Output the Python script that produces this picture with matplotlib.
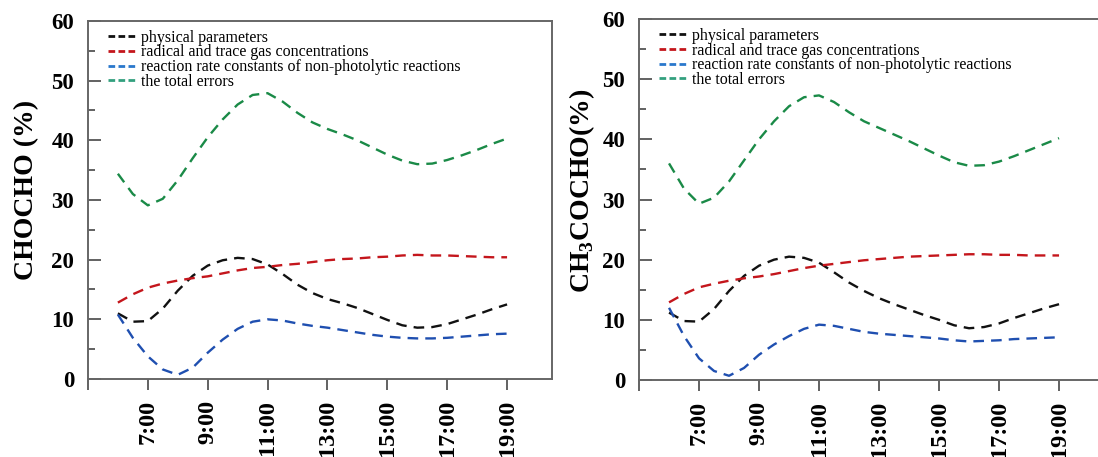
import numpy as np
import matplotlib
matplotlib.use("Agg")
import matplotlib.pyplot as plt
from matplotlib.lines import Line2D
from matplotlib.ticker import MultipleLocator

plt.rcParams['font.family'] = ['Liberation Serif', 'DejaVu Serif']
plt.rcParams['mathtext.fontset'] = 'custom'
plt.rcParams['mathtext.rm'] = 'Liberation Serif'
plt.rcParams['mathtext.bf'] = 'Liberation Serif:bold'

# hours of the day, every half hour from 6:00 to 19:00
hours = [6, 6.5, 7, 7.5, 8, 8.5, 9, 9.5, 10, 10.5, 11, 11.5, 12, 12.5,
         13, 13.5, 14, 14.5, 15, 15.5, 16, 16.5, 17, 17.5, 18, 18.5, 19]
tick_hours = [5, 7, 9, 11, 13, 15, 17, 19]
tick_labels = ["", "7:00", "9:00", "11:00", "13:00", "15:00", "17:00", "19:00"]

labels = ["physical parameters",
          "radical and trace gas concentrations",
          "reaction rate constants of non-photolytic reactions",
          "the total errors"]

# CHOCHO
gly_phys = [11.0, 9.6, 9.7, 11.8, 14.8, 17.3, 19.0, 19.9, 20.3, 20.1, 19.2, 17.6, 15.8, 14.4,
            13.4, 12.7, 11.9, 10.9, 9.9, 9.0, 8.6, 8.7, 9.2, 10.0, 10.8, 11.7, 12.5]
gly_rad = [12.8, 14.2, 15.3, 16.0, 16.5, 16.9, 17.2, 17.7, 18.2, 18.6, 18.8, 19.1, 19.3, 19.6,
           19.9, 20.1, 20.2, 20.4, 20.5, 20.7, 20.8, 20.7, 20.7, 20.6, 20.5, 20.4, 20.4]
gly_rate = [10.8, 6.9, 3.8, 1.6, 0.7, 1.9, 4.4, 6.6, 8.4, 9.6, 10.0, 9.8, 9.3, 8.9,
            8.6, 8.2, 7.8, 7.4, 7.1, 6.9, 6.8, 6.8, 6.9, 7.1, 7.3, 7.5, 7.6]
gly_total = [34.4, 31.0, 29.1, 30.2, 33.3, 37.0, 40.5, 43.5, 46.0, 47.6, 47.9, 46.5, 44.6, 43.0,
             41.9, 41.0, 40.0, 38.8, 37.6, 36.6, 36.0, 36.1, 36.7, 37.5, 38.4, 39.4, 40.3]

# CH3COCHO
mgly_phys = [11.2, 9.8, 9.7, 11.8, 14.8, 17.3, 19.0, 20.0, 20.5, 20.3, 19.5, 17.9, 16.2, 14.8,
             13.6, 12.6, 11.7, 10.8, 10.0, 9.1, 8.6, 8.8, 9.4, 10.3, 11.1, 11.9, 12.6]
mgly_rad = [12.9, 14.3, 15.4, 16.0, 16.5, 16.9, 17.2, 17.6, 18.1, 18.6, 19.0, 19.3, 19.6, 19.9,
            20.1, 20.3, 20.5, 20.6, 20.7, 20.8, 20.9, 20.9, 20.8, 20.8, 20.7, 20.7, 20.7]
mgly_rate = [12.0, 7.3, 3.6, 1.5, 0.7, 2.0, 4.2, 5.9, 7.3, 8.5, 9.2, 9.0, 8.5, 8.0,
             7.7, 7.5, 7.3, 7.1, 6.9, 6.6, 6.4, 6.5, 6.6, 6.8, 6.9, 7.0, 7.1]
mgly_total = [36.0, 31.8, 29.3, 30.3, 33.0, 36.5, 40.0, 43.0, 45.5, 47.0, 47.3, 46.2, 44.5, 43.0,
              41.9, 40.8, 39.7, 38.5, 37.3, 36.2, 35.6, 35.7, 36.3, 37.2, 38.2, 39.2, 40.2]

colors = ["#111111", "#c4161c", "#1f4fb0", "#1a8a47"]
legend_colors = ["#111111", "#c4161c", "#2a78cc", "#33a07e"]

fig = plt.figure(figsize=(10.98, 4.57), dpi=100)
ax1 = fig.add_axes([0.0801, 0.1707, 0.4226, 0.7834])
ax2 = fig.add_axes([0.5820, 0.1685, 0.4235, 0.7899])

panels = [(ax1, [gly_phys, gly_rad, gly_rate, gly_total], "CHOCHO (%)", (-0.105, 0.528)),
          (ax2, [mgly_phys, mgly_rad, mgly_rate, mgly_total], r"CH$_\mathbf{3}$COCHO(%)",
           (-0.09, 0.523))]

for ax, series, ylab, lab_xy in panels:
    for vals, c in zip(series, colors):
        ax.plot(hours, vals, color=c, lw=1.7, dashes=(4.5, 3.0))
    ax.set_xlim(5, 20.5)
    ax.set_ylim(0, 60)
    ax.set_xticks(tick_hours)
    ax.set_xticklabels(tick_labels, rotation=90, fontsize=17.5, fontweight='bold')
    ax.yaxis.set_major_locator(MultipleLocator(10))
    ax.yaxis.set_minor_locator(MultipleLocator(5))
    for t in ax.get_yticklabels():
        t.set_fontsize(16.5)
        t.set_fontweight('bold')
    ax.tick_params(axis='y', which='major', direction='in', length=9, width=1.3,
                   color='#555555', pad=10)
    ax.tick_params(axis='y', which='minor', direction='in', length=5, width=1.3,
                   color='#555555')
    ax.tick_params(axis='x', direction='out', length=8, width=1.3, color='#555555', pad=7)
    for s in ax.spines.values():
        s.set_color('#666666')
        s.set_linewidth(1.4)
    ax.set_ylabel(ylab, fontsize=20, fontweight='bold')
    ax.yaxis.set_label_coords(*lab_xy)
    handles = [Line2D([], [], color=c, lw=2.0, dashes=(2.4, 1.2)) for c in legend_colors]
    ax.legend(handles, labels, loc='upper left', bbox_to_anchor=(0.025, 1.0), frameon=False,
              fontsize=11.5, handlelength=1.75, handletextpad=0.3,
              labelspacing=-0.08, borderaxespad=0.15)

fig.savefig("out.png", dpi=100)
